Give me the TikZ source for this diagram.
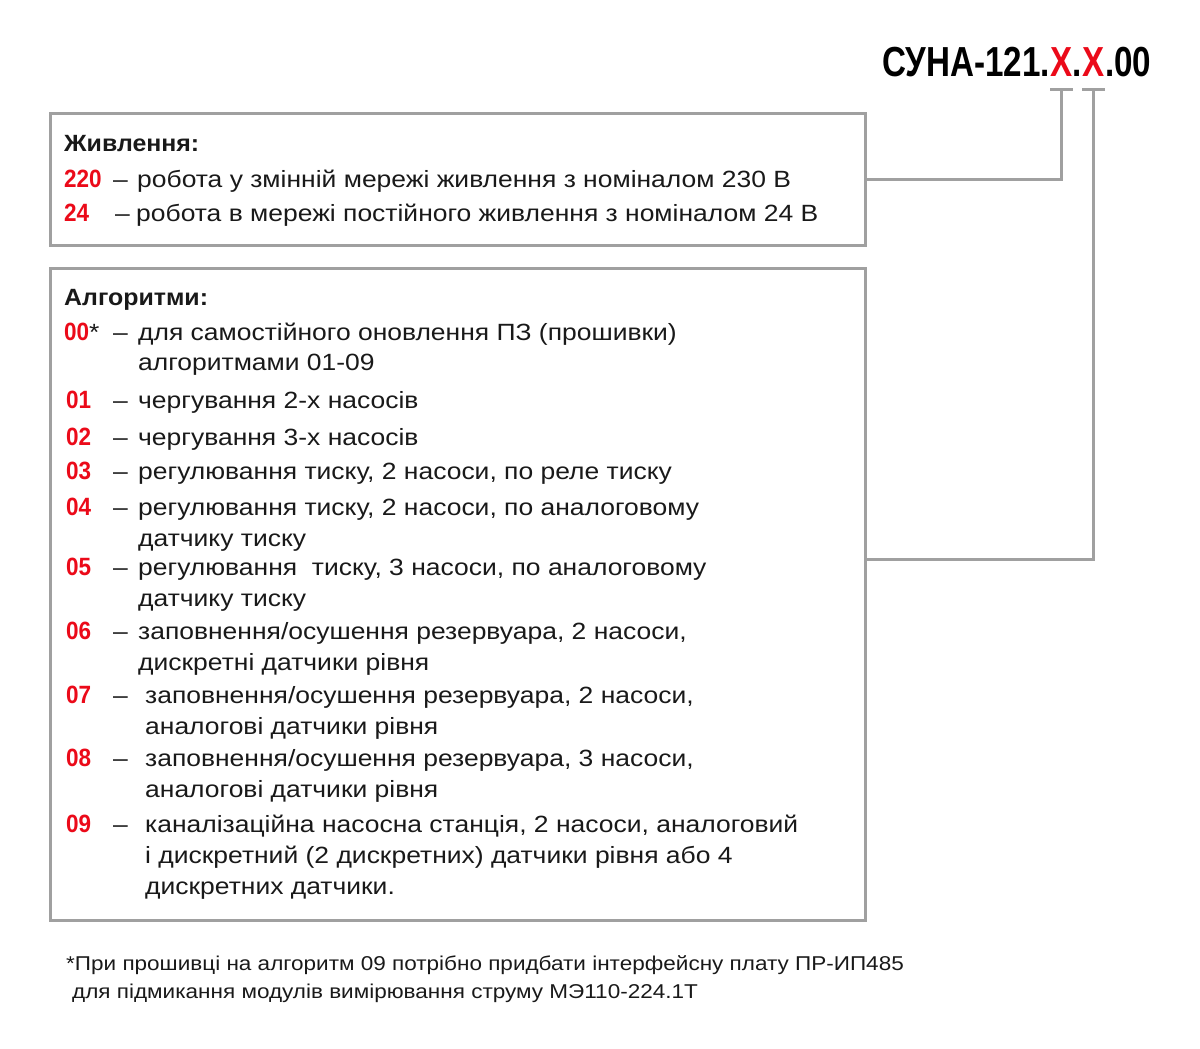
\documentclass[tikz,border=0pt]{standalone}
\usepackage{fontspec}
\setmainfont{Liberation Sans}[FakeStretch=1.126]
\newfontfamily\headfont[FakeStretch=1.06]{Liberation Sans}
\newfontfamily\numfont[FakeStretch=0.9]{Liberation Sans}
\newfontfamily\titlefont[FakeStretch=0.79]{Liberation Sans}
\usetikzlibrary{positioning, calc}
\definecolor{codered}{RGB}{235,10,25}
\definecolor{framegray}{RGB}{160,160,160}
\definecolor{inktext}{RGB}{25,25,25}
\tikzstyle{framebox}=[draw=framegray, line width=3pt, inner sep=0pt]
\tikzstyle{linkpath}=[draw=framegray, line width=3pt]
\tikzstyle{bodytext}=[inner sep=0pt, anchor=base west, text=inktext, font=\fontsize{23.5}{28}\selectfont]
\tikzstyle{headtext}=[bodytext, font=\headfont\bfseries\fontsize{23.5}{28}\selectfont]
\tikzstyle{numtext}=[inner sep=0pt, anchor=base west, text=codered, font=\numfont\bfseries\fontsize{25}{30}\selectfont]
\tikzstyle{titletext}=[inner sep=0pt, anchor=base west, font=\titlefont\bfseries\fontsize{42}{50}\selectfont]
\tikzstyle{notetext}=[bodytext, font=\fontsize{20}{24}\selectfont]
\newcommand{\algrow}[5]{%
  \node[numtext] (n#1) at (66,#2) {#3};
  \node[bodytext] (d#1) at (113,#2) {–};
  \node[bodytext] (t#1) at (#4,#2) {#5};}

\begin{document}
\begin{tikzpicture}[x=1pt, y=-1pt]
    \useasboundingbox (0,0) rectangle (1200,1049);

    % designation
    \node[titletext] (nm) at (882,77) {СУНА-121.};
    \node[titletext, text=codered] (x1) at (nm.base east) {X};
    \node[titletext] (p1) at (x1.base east) {.};
    \node[titletext, text=codered] (x2) at (p1.base east) {X};
    \node[titletext] (p2) at (x2.base east) {.00};

    % frames
    \node[framebox, minimum width=815, minimum height=132] (box1) at (457.5,179) {};
    \node[framebox, minimum width=815, minimum height=652] (box2) at (457.5,594) {};

    % power
    \node[headtext] (hpow) at (64,151) {Живлення:};
    \node[numtext] (n220) at (64,187) {220};
    \node[bodytext] (d220) at (113,187) {–};
    \node[bodytext] (t220) at (137,187) {робота у змінній мережі живлення з номіналом 230 В};
    \node[numtext] (n24) at (64,221) {24};
    \node[bodytext] (d24) at (115,221) {–};
    \node[bodytext] (t24) at (136,221) {робота в мережі постійного живлення з номіналом 24 В};

    % algorithms
    \node[headtext] (halg) at (64,305) {Алгоритми:};
    \node[numtext] (n00) at (64,340) {00\textcolor{inktext}{\normalfont\fontsize{23.5}{28}\selectfont*}};
    \node[bodytext] (d00) at (113,340) {–};
    \node[bodytext] (t00) at (138,340) {для самостійного оновлення ПЗ (прошивки)};
    \node[bodytext] (t00b) at (138,370) {алгоритмами 01-09};
    \algrow{01}{408}{01}{138}{чергування 2-х насосів}
    \algrow{02}{445}{02}{138}{чергування 3-х насосів}
    \algrow{03}{479}{03}{138}{регулювання тиску, 2 насоси, по реле тиску}
    \algrow{04}{515}{04}{138}{регулювання тиску, 2 насоси, по аналоговому}
    \node[bodytext] (t04b) at (138,546) {датчику тиску};
    \algrow{05}{575}{05}{138}{регулювання \ тиску, 3 насоси, по аналоговому}
    \node[bodytext] (t05b) at (138,606) {датчику тиску};
    \algrow{06}{639}{06}{138}{заповнення/осушення резервуара, 2 насоси,}
    \node[bodytext] (t06b) at (138,670) {дискретні датчики рівня};
    \algrow{07}{703}{07}{145}{заповнення/осушення резервуара, 2 насоси,}
    \node[bodytext] (t07b) at (145,734) {аналогові датчики рівня};
    \algrow{08}{766}{08}{145}{заповнення/осушення резервуара, 3 насоси,}
    \node[bodytext] (t08b) at (145,797) {аналогові датчики рівня};
    \algrow{09}{832}{09}{145}{каналізаційна насосна станція, 2 насоси, аналоговий}
    \node[bodytext] (t09b) at (145,863) {і дискретний (2 дискретних) датчики рівня або 4};
    \node[bodytext] (t09c) at (145,894) {дискретних датчики.};

    % footnote
    \node[notetext] (fn1) at (66,970) {*При прошивці на алгоритм 09 потрібно придбати інтерфейсну плату ПР-ИП485};
    \node[notetext] (fn2) at (72,998) {для підмикання модулів вимірювання струму МЭ110-224.1Т};

    % links from the code letters
    \coordinate (k1) at ([yshift=-13pt]x1.base);
    \coordinate (k2) at ([yshift=-13pt]x2.base);
    \draw[linkpath] (k1 -| x1.west) -- (k1 -| x1.east);
    \draw[linkpath] (k2 -| x2.west) -- (k2 -| x2.east);
    \draw[linkpath] (k1) |- (box1.east);
    \draw[linkpath] (k2) |- ([yshift=35pt]box2.east);
\end{tikzpicture}
\end{document}
